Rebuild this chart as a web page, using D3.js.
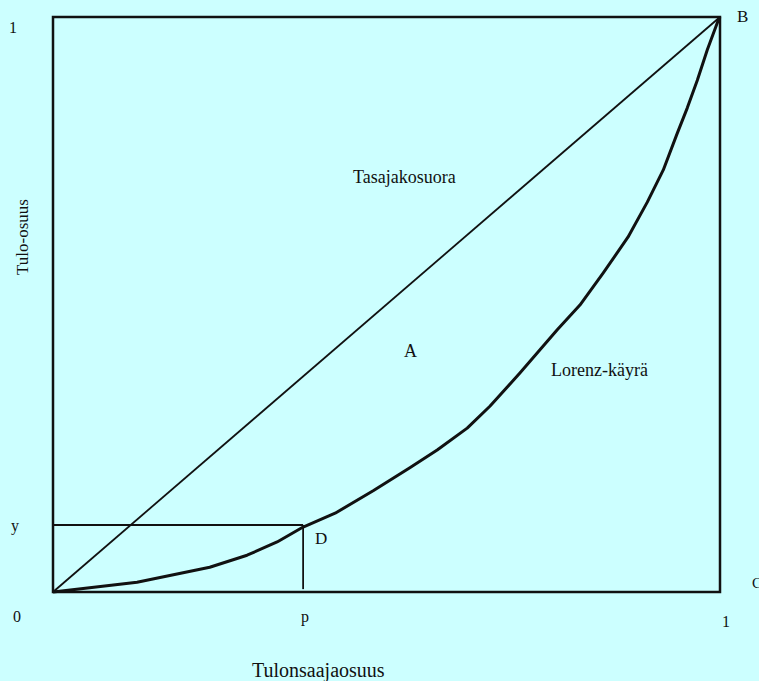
<!DOCTYPE html>
<meta charset="utf-8">
<style>
body { margin: 0; background: #ccffff; }
svg { display: block; background: #ccffff; }
text { font-family: "Liberation Serif", "Times New Roman", serif; fill: #111; }
</style>
<svg width="759" height="681"></svg>
<script src="https://d3js.org/d3.v7.min.js"></script>
<script>

// Lorenz curve: cumulative population share vs cumulative income share
var popShare    = [0, 0.126, 0.235, 0.291, 0.336, 0.375, 0.423, 0.480, 0.535, 0.576, 0.621, 0.655, 0.700, 0.756, 0.790, 0.825, 0.862, 0.891, 0.915, 0.936, 0.951, 0.966, 0.981, 0.996, 1];
var incomeShare = [0, 0.017, 0.043, 0.064, 0.087, 0.113, 0.137, 0.176, 0.216, 0.247, 0.285, 0.323, 0.381, 0.456, 0.499, 0.555, 0.617, 0.678, 0.734, 0.798, 0.842, 0.890, 0.943, 0.990, 1];

// marked point D on the curve
var pValue = 0.375;
var yValue = 0.1165;

var svg = d3.select("svg");

var x = d3.scaleLinear().domain([0, 1]).range([53, 720]);
var y = d3.scaleLinear().domain([0, 1]).range([592, 17]);

var curve = popShare.map(function(p, i) { return [p, incomeShare[i]]; });

// frame
svg.append("rect")
    .attr("x", x(0)).attr("y", y(1))
    .attr("width", x(1) - x(0)).attr("height", y(0) - y(1))
    .attr("fill", "none").attr("stroke", "#111").attr("stroke-width", 2.5);

// equality line
svg.append("line")
    .attr("x1", x(0)).attr("y1", y(0))
    .attr("x2", x(1)).attr("y2", y(1))
    .attr("stroke", "#111").attr("stroke-width", 1.8);

// p / y guide lines
svg.append("line")
    .attr("x1", x(0)).attr("y1", y(yValue))
    .attr("x2", x(pValue)).attr("y2", y(yValue))
    .attr("stroke", "#111").attr("stroke-width", 1.8);
svg.append("line")
    .attr("x1", x(pValue)).attr("y1", y(yValue))
    .attr("x2", x(pValue)).attr("y2", y(0.005))
    .attr("stroke", "#111").attr("stroke-width", 1.8);

// Lorenz curve
svg.append("path")
    .datum(curve)
    .attr("d", d3.line().x(function(d) { return x(d[0]); }).y(function(d) { return y(d[1]); }))
    .attr("fill", "none").attr("stroke", "#111").attr("stroke-width", 3)
    .attr("stroke-linejoin", "round");

// labels
var labels = [
    {t: "1", x: 9, y: 33, s: 16},
    {t: "y", x: 11, y: 531, s: 16},
    {t: "0", x: 13, y: 622, s: 16},
    {t: "p", x: 301, y: 622, s: 16},
    {t: "1", x: 722, y: 627, s: 16},
    {t: "B", x: 737, y: 22, s: 17},
    {t: "C", x: 752, y: 588, s: 15},
    {t: "Tasajakosuora", x: 353, y: 183, s: 18},
    {t: "A", x: 404, y: 357, s: 18},
    {t: "Lorenz-käyrä", x: 551, y: 376, s: 18},
    {t: "D", x: 315, y: 544, s: 17},
    {t: "Tulonsaajaosuus", x: 252, y: 677, s: 20}
];

svg.selectAll("text.lbl")
    .data(labels)
    .enter().append("text")
    .attr("class", "lbl")
    .attr("x", function(d) { return d.x; })
    .attr("y", function(d) { return d.y; })
    .style("font-size", function(d) { return d.s + "px"; })
    .text(function(d) { return d.t; });

svg.append("text")
    .attr("transform", "translate(28,237) rotate(-90)")
    .attr("text-anchor", "middle")
    .style("font-size", "17px")
    .text("Tulo-osuus");

</script>
